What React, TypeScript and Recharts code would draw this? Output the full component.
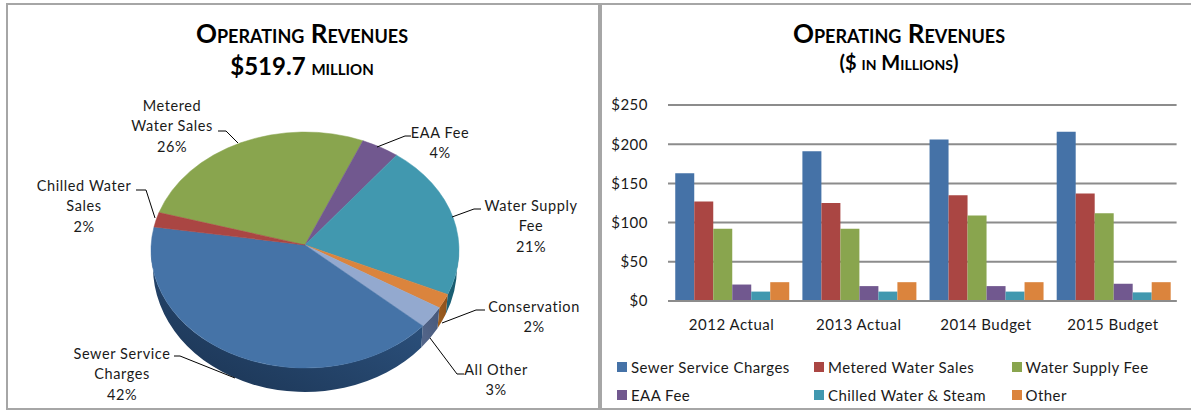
import { Bar, BarChart, CartesianGrid, Legend, Pie, PieChart, XAxis, YAxis } from "recharts";

const FONT = "Lato, sans-serif";

const sliceNames = ["Metered Water Sales", "EAA Fee", "Water Supply Fee", "Conservation", "All Other", "Sewer Service Charges", "Chilled Water Sales"];
const sliceShares = [26, 4, 21, 2, 3, 42, 2];
const sliceColors = ["#89a54e", "#71588f", "#4198af", "#db843d", "#93a9cf", "#4573a7", "#aa4643"];
const wallColors = [
  ["#5e7236", "#5e7236"],
  ["#4e3d63", "#4e3d63"],
  ["#16566a", "#1d6378"],
  ["#8a4f1c", "#a0601f"],
  ["#46587a", "#56688c"],
  ["#315a8a", "#1a3250"],
  ["#7a302e", "#7a302e"],
];

const years = ["2012 Actual", "2013 Actual", "2014 Budget", "2015 Budget"];
const sewer = [163, 191, 206, 216];
const metered = [127, 125, 135, 137];
const waterSupply = [92, 92, 109, 112];
const eaa = [21, 19, 19, 22];
const chilled = [12, 12, 12, 11];
const other = [24, 24, 24, 24];
const yTicks = [0, 50, 100, 150, 200, 250];

const pieData = sliceNames.map((name, i) => ({ name, value: sliceShares[i] }));
const barData = years.map((year, i) => ({
  year,
  sewer: sewer[i],
  metered: metered[i],
  waterSupply: waterSupply[i],
  eaa: eaa[i],
  chilled: chilled[i],
  other: other[i],
}));

// callout text and leader lines, in the same order as the slices
const callouts = [
  { lines: ["Metered", "Water Sales", "26%"], x: 172, y: 105, leader: "218,131 226,131 238,143" },
  { lines: ["EAA Fee", "4%"], x: 440, y: 132, leader: "411,136 405,136 377,147" },
  { lines: ["Water Supply", "Fee", "21%"], x: 531, y: 205, leader: "481,209 474,209 452,217" },
  { lines: ["Conservation", "2%"], x: 534, y: 306, leader: "485,310 476,310 442,323" },
  { lines: ["All Other", "3%"], x: 496, y: 369, leader: "464,374 457,374 430,338" },
  { lines: ["Sewer Service", "Charges", "42%"], x: 122, y: 353, leader: "174,356 180,356 235,378" },
  { lines: ["Chilled Water", "Sales", "2%"], x: 84, y: 185, leader: "136,190 146,190 155,218" },
];

// the pie is tilted, so the circle the library computes is squashed into an ellipse
const SQUASH = 118 / 154;
const FACE_DROP = 5;
const BASE_DROP = 22;
const BASE_RY = 125;
const BASE_RX = 152;

const pointOn = (cx: number, cy: number, rx: number, ry: number, deg: number) => {
  const a = (deg * Math.PI) / 180;
  return [cx + rx * Math.cos(a), cy - ry * Math.sin(a)];
};

const FaceSlice = (props: any) => {
  const { cx, cy, outerRadius: rx, startAngle, endAngle, name } = props;
  const ry = rx * SQUASH;
  const p0 = pointOn(cx, cy + FACE_DROP, rx, ry, startAngle);
  const p1 = pointOn(cx, cy + FACE_DROP, rx, ry, endAngle);
  const large = Math.abs(startAngle - endAngle) > 180 ? 1 : 0;
  const fill = sliceColors[sliceNames.indexOf(name)];
  return (
    <path
      d={`M${cx},${cy} L${p0[0]},${p0[1]} A${rx},${ry} 0 ${large} 1 ${p1[0]},${p1[1]} Z`}
      fill={fill}
      stroke={fill}
      strokeWidth={0.5}
    />
  );
};

const WallSlice = (props: any) => {
  const { cx, cy, outerRadius: rx, startAngle, endAngle, name } = props;
  const from = Math.min(startAngle, 0);
  const to = Math.max(endAngle, -180);
  if (from <= to) return null;
  const ry = rx * SQUASH;
  const idx = sliceNames.indexOf(name);
  const t0 = pointOn(cx, cy + FACE_DROP, rx, ry, from);
  const t1 = pointOn(cx, cy + FACE_DROP, rx, ry, to);
  const b0 = pointOn(cx, cy + BASE_DROP, BASE_RX, BASE_RY, from);
  const b1 = pointOn(cx, cy + BASE_DROP, BASE_RX, BASE_RY, to);
  const gid = `wall-${idx}`;
  return (
    <g>
      <defs>
        <linearGradient id={gid} x1="1" y1="0" x2="0" y2="1">
          <stop offset="0" stopColor={wallColors[idx][0]} />
          <stop offset="1" stopColor={wallColors[idx][1]} />
        </linearGradient>
      </defs>
      <path
        d={`M${t0[0]},${t0[1]} A${rx},${ry} 0 0 1 ${t1[0]},${t1[1]} L${b1[0]},${b1[1]} A${BASE_RX},${BASE_RY} 0 0 0 ${b0[0]},${b0[1]} Z`}
        fill={`url(#${gid})`}
      />
    </g>
  );
};

const renderCallout = (props: any) => {
  const c = callouts[props.index];
  return (
    <g key={c.x}>
      <polyline points={c.leader} fill="none" stroke="#000" strokeWidth={1} />
      {c.lines.map((line, i) => (
        <text
          key={line}
          x={c.x}
          y={c.y + i * 20.7}
          textAnchor="middle"
          dominantBaseline="central"
          fontFamily={FONT}
          fontSize={14.5}
          letterSpacing={0.6}
          fill="#1a1a1a"
        >
          {line}
        </text>
      ))}
    </g>
  );
};

const renderLegend = (props: any) => (
  <div style={{ display: "grid", gridTemplateColumns: "197px 197.5px 170px", paddingLeft: 17, paddingTop: 2, fontFamily: FONT, fontSize: 15, letterSpacing: 0.45, color: "#1a1a1a" }}>
    {props.payload.map((entry: any) => (
      <div key={entry.value} style={{ display: "flex", alignItems: "center", height: 28 }}>
        <span style={{ width: 10, height: 10, background: entry.color, marginRight: 4 }} />
        {entry.value}
      </div>
    ))}
  </div>
);

const titleStyle: React.CSSProperties = {
  position: "absolute",
  textAlign: "center",
  fontFamily: FONT,
  fontWeight: 700,
  fontVariant: "small-caps",
  color: "#000",
  whiteSpace: "nowrap",
  transform: "translate(-50%, -50%)",
};

const panelStyle: React.CSSProperties = { position: "absolute", border: "2px solid #a6a6a6", boxSizing: "border-box" };

export default function App() {
  return (
    <div style={{ position: "fixed", left: 0, top: 0, width: 1191, height: 410, background: "#fff", overflow: "hidden" }}>
      <div style={{ ...panelStyle, left: 6, top: 3, width: 594, height: 407 }} />
      <div style={{ ...panelStyle, left: 600, top: 3, width: 600, height: 407 }} />

      <div style={{ ...titleStyle, left: 302, top: 33, fontSize: 26 }}>Operating Revenues</div>
      <div style={{ ...titleStyle, left: 302, top: 65, fontSize: 24 }}>
        $519.7 <span style={{ fontSize: 21 }}>million</span>
      </div>
      <div style={{ ...titleStyle, left: 899, top: 33, fontSize: 26 }}>Operating Revenues</div>
      <div style={{ ...titleStyle, left: 899, top: 62, fontSize: 20 }}>($ in Millions)</div>

      <div style={{ position: "absolute", left: 0, top: 0 }}>
        <PieChart width={600} height={410} margin={{ top: 0, right: 0, bottom: 0, left: 0 }}>
          <Pie
            data={pieData}
            dataKey="value"
            nameKey="name"
            cx={305}
            cy={245}
            outerRadius={154}
            startAngle={161.5}
            endAngle={-198.5}
            stroke="none"
            shape={WallSlice}
            isAnimationActive={false}
          />
          <Pie
            data={pieData}
            dataKey="value"
            nameKey="name"
            cx={305}
            cy={245}
            outerRadius={154}
            startAngle={161.5}
            endAngle={-198.5}
            stroke="none"
            shape={FaceSlice}
            label={renderCallout}
            labelLine={false}
            isAnimationActive={false}
          />
        </PieChart>
      </div>

      <div style={{ position: "absolute", left: 600, top: 0 }}>
        <BarChart
          width={591}
          height={410}
          data={barData}
          margin={{ top: 105, right: 14.4, bottom: 1, left: 0 }}
          barCategoryGap="5.7%"
          barGap={0}
        >
          <CartesianGrid vertical={false} stroke="#8c8c8c" strokeWidth={2} />
          <XAxis
            dataKey="year"
            height={50}
            tickLine={false}
            axisLine={{ stroke: "#8c8c8c", strokeWidth: 2 }}
            tickMargin={12}
            tick={{ fontFamily: FONT, fontSize: 15, letterSpacing: 0.5, fill: "#1a1a1a" }}
          />
          <YAxis
            width={68}
            domain={[0, 250]}
            ticks={yTicks}
            axisLine={false}
            tickLine={false}
            tickMargin={14}
            tickFormatter={(v: number) => `$${v}`}
            tick={{ fontFamily: FONT, fontSize: 15, letterSpacing: 0.5, fill: "#1a1a1a" }}
          />
          <Legend content={renderLegend} height={58} verticalAlign="bottom" itemSorter={null} />
          <Bar dataKey="sewer" name="Sewer Service Charges" fill="#4572a7" isAnimationActive={false} />
          <Bar dataKey="metered" name="Metered Water Sales" fill="#aa4643" isAnimationActive={false} />
          <Bar dataKey="waterSupply" name="Water Supply Fee" fill="#89a54e" isAnimationActive={false} />
          <Bar dataKey="eaa" name="EAA Fee" fill="#71588f" isAnimationActive={false} />
          <Bar dataKey="chilled" name="Chilled Water & Steam" fill="#4198af" isAnimationActive={false} />
          <Bar dataKey="other" name="Other" fill="#db843d" isAnimationActive={false} />
        </BarChart>
      </div>
    </div>
  );
}
